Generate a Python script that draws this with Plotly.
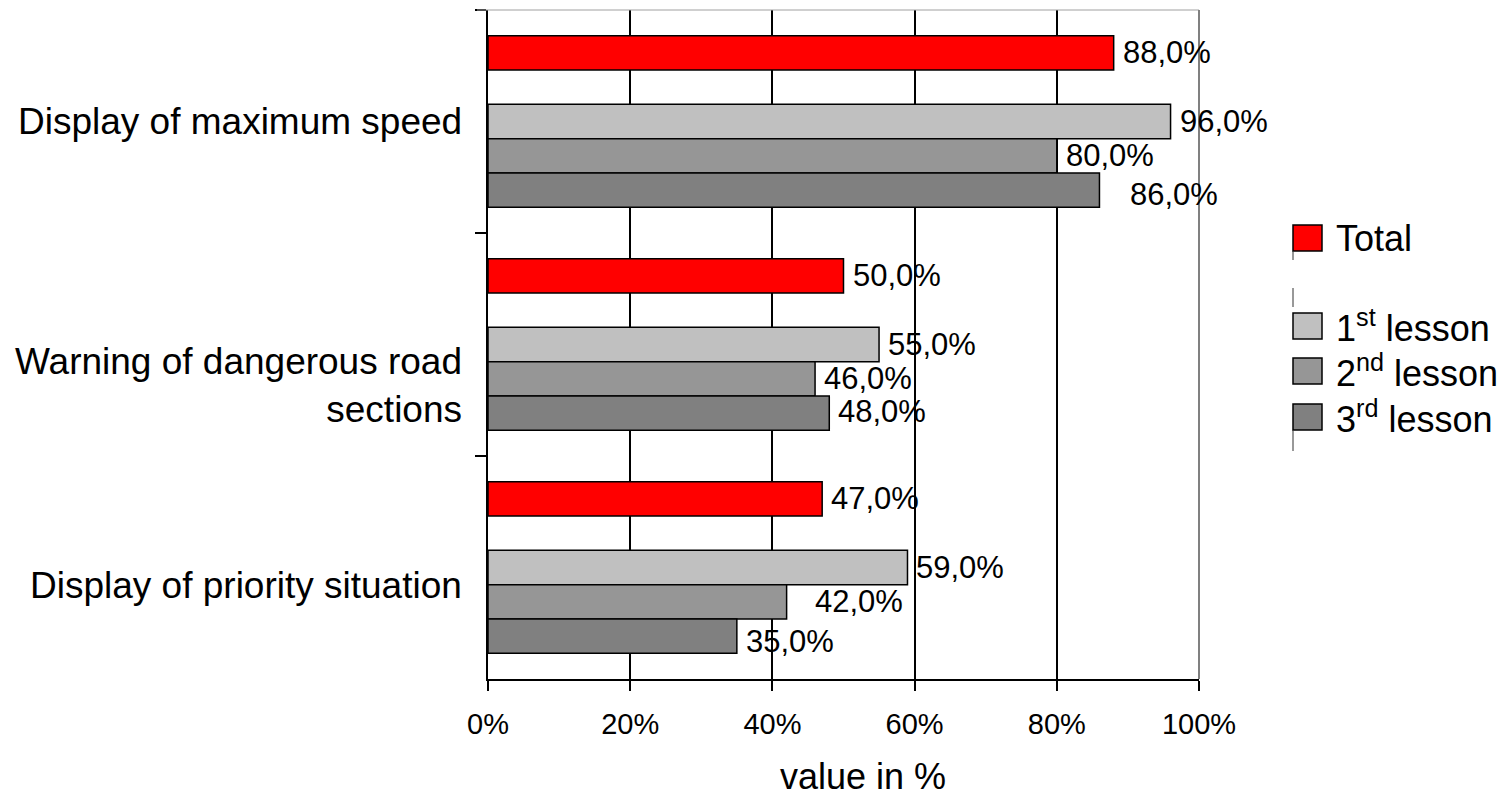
import plotly.graph_objects as go

# Survey results per assistance function, in percent
categories = [
    "Display of maximum speed",
    "Warning of dangerous road sections",
    "Display of priority situation",
]
category_lines = [
    "Display of maximum speed",
    "Warning of dangerous road<br>sections",
    "Display of priority situation",
]
total = [88.0, 50.0, 47.0]
lesson_1 = [96.0, 55.0, 59.0]
lesson_2 = [80.0, 46.0, 42.0]
lesson_3 = [86.0, 48.0, 35.0]

series_names = ["Total", "1<sup>st</sup> lesson", "2<sup>nd</sup> lesson", "3<sup>rd</sup> lesson"]
series_values = [total, lesson_1, lesson_2, lesson_3]
series_colors = ["#FF0000", "#C0C0C0", "#969696", "#808080"]

x_tickvals = [0, 20, 40, 60, 80, 100]
x_ticktext = ["0%", "20%", "40%", "60%", "80%", "100%"]

FONT = "Arial, 'Liberation Sans', sans-serif"

# plot-area geometry in pixels
W, H = 1501, 799
L, R, T, B = 488, 302, 10, 120
PW, PH = W - L - R, H - T - B


def px(xp):
    return (xp - L) / PW


def py(yp):
    return (H - B - yp) / PH


fig = go.Figure()

# slot order inside each category: Total, empty slot, 1st, 2nd, 3rd
slot_of_series = [0, 2, 3, 4]
n_slots = 5
bargap = 0.23
slot_w = (1 - bargap) / n_slots


def add_bar(name, vals, color):
    fig.add_trace(go.Bar(
        y=categories, x=vals, orientation="h", name=name,
        marker=dict(color=color, line=dict(color="black", width=1.5)),
        showlegend=False, hoverinfo="x+y",
    ))


add_bar(series_names[0], series_values[0], series_colors[0])
fig.add_trace(go.Bar(
    y=categories, x=[0, 0, 0], orientation="h", name="",
    marker=dict(color="rgba(0,0,0,0)", line=dict(width=0)),
    showlegend=False, hoverinfo="skip",
))
for name, vals, color in zip(series_names[1:], series_values[1:], series_colors[1:]):
    add_bar(name, vals, color)

annotations = []

# value labels next to the bar ends (x nudge, y nudge in px)
label_nudge = {(3, 0): (22, -4), (2, 2): (19, 0), (3, 2): (0, -5), (3, 1): (0, 2)}
for si, vals in enumerate(series_values):
    slot = slot_of_series[si]
    offset = -0.5 + bargap / 2 + slot_w * (slot + 0.5)
    for ci, v in enumerate(vals):
        dx, dy = label_nudge.get((si, ci), (0, 0))
        annotations.append(dict(
            x=v, y=ci + offset, xref="x", yref="y",
            text=f"{v:.1f}%".replace(".", ","),
            showarrow=False, xanchor="left", yanchor="middle",
            xshift=7 + dx, yshift=dy,
            font=dict(family=FONT, size=31, color="black"),
        ))

# category labels left of the axis
cat_yshift = [0, -41, -18]
for ci, txt in enumerate(category_lines):
    annotations.append(dict(
        x=0, y=ci, xref="paper", yref="y", text=txt,
        showarrow=False, xanchor="right", yanchor="middle", align="right",
        xshift=-24, yshift=cat_yshift[ci],
        font=dict(family=FONT, size=37, color="black"),
    ))

# axis title, kept inside the bottom edge of the page
annotations.append(dict(
    x=0.5, y=0, xref="paper", yref="paper", text="value in %",
    showarrow=False, xanchor="center", yanchor="bottom",
    xshift=19, yshift=-B + 1, borderpad=0,
    font=dict(family=FONT, size=36, color="black"),
))

shapes = []
# legend swatches and labels
legend_rows = [238, 326, 371, 417]
for (name, color), yc in zip(zip(series_names, series_colors), legend_rows):
    shapes.append(dict(
        type="rect", xref="paper", yref="paper",
        x0=px(1293), x1=px(1322), y0=py(yc + 13), y1=py(yc - 13),
        fillcolor=color, line=dict(color="black", width=1.5),
    ))
    annotations.append(dict(
        x=px(1334), y=py(yc), xref="paper", yref="paper", text=name,
        showarrow=False, xanchor="left", yanchor="middle",
        font=dict(family=FONT, size=36, color="black"),
    ))
# short rule fragments along the legend's left edge
for y0, y1 in [(251, 260), (288, 307), (430, 451)]:
    shapes.append(dict(
        type="line", xref="paper", yref="paper",
        x0=px(1293), x1=px(1293), y0=py(y0), y1=py(y1),
        line=dict(color="#333333", width=1),
    ))

# grey frame on top and right of the plot area
shapes.append(dict(
    type="line", xref="paper", yref="paper", x0=px(477), x1=1, y0=1, y1=1,
    line=dict(color="#A0A0A0", width=1), layer="above",
))
shapes.append(dict(
    type="line", xref="paper", yref="paper", x0=1, x1=1, y0=0, y1=1,
    line=dict(color="#808080", width=2), layer="above",
))

fig.update_layout(
    width=W, height=H,
    margin=dict(l=L, r=R, t=T, b=B, pad=0),
    paper_bgcolor="white", plot_bgcolor="white",
    barmode="group", bargap=bargap, bargroupgap=0,
    showlegend=False,
    annotations=annotations, shapes=shapes,
    font=dict(family=FONT, color="black"),
    xaxis=dict(
        range=[0, 100], tickvals=x_tickvals, ticktext=x_ticktext,
        showgrid=True, gridcolor="black", gridwidth=2,
        showline=True, linecolor="black", linewidth=2,
        ticks="outside", ticklen=10, tickwidth=2, tickcolor="black",
        tickfont=dict(family=FONT, size=29, color="black"),
        ticklabelstandoff=8, zeroline=False, fixedrange=True,
    ),
    yaxis=dict(
        type="category", categoryorder="array", categoryarray=categories,
        range=[2.5, -0.5], tickson="boundaries",
        showticklabels=False, showgrid=False, zeroline=False,
        showline=True, linecolor="black", linewidth=2,
        ticks="outside", ticklen=11, tickwidth=2, tickcolor="black",
        fixedrange=True,
    ),
)

fig.write_html("out.html")
